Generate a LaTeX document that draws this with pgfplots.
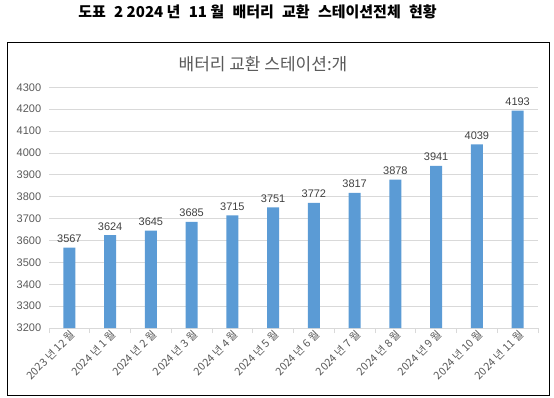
\documentclass[border=0pt]{standalone}
\usepackage{fontspec}
\setmainfont{Liberation Sans}
\newfontfamily\kr{Noto Sans CJK KR}
\usepackage{pgfplots}
\pgfplotsset{compat=1.18}
\definecolor{barblue}{HTML}{5B9BD5}
\definecolor{gridgray}{HTML}{D9D9D9}
\definecolor{txtgray}{HTML}{595959}
\definecolor{lblgray}{HTML}{404040}
\newcommand{\gap}{\hspace{0.55em}}
\begin{document}
\begin{tikzpicture}[x=1pt,y=1pt]
\useasboundingbox (0,0) rectangle (554,397);
\node[font=\kr\bfseries\fontsize{15}{17}\selectfont] at (257.5,385) {도표\gap 2 2024 년\gap 11 월\gap 배터리\gap 교환\gap 스테이션전체\gap 현황};
\draw[line width=1pt] (7,1.5) rectangle (549,354.5);
\node[font=\kr\fontsize{17}{19}\selectfont, text=txtgray] at (263,333) {배터리 교환 스테이션:개};
\begin{axis}[
  at={(49pt,69pt)}, anchor=south west,
  scale only axis, width=489pt, height=240.7pt,
  ymin=3200, ymax=4300, ytick={3200,3300,...,4300},
  xmin=-0.5, xmax=11.5,
  ybar, bar width=12pt,
  axis x line*=bottom, axis y line*=left,
  y axis line style={draw=none},
  x axis line style={-, draw=gridgray, line width=0.8pt},
  ymajorgrids, grid style={gridgray, line width=0.8pt},
  ytick style={draw=none},
  xtick={0,...,11},
  xticklabels={2023 년 12 월, 2024 년 1 월, 2024 년 2 월, 2024 년 3 월, 2024 년 4 월, 2024 년 5 월, 2024 년 6 월, 2024 년 7 월, 2024 년 8 월, 2024 년 9 월, 2024 년 10 월, 2024 년 11 월},
  major x tick style={draw=none},
  minor xtick={-0.5,0.5,...,11.5},
  minor tick length=5pt,
  minor x tick style={draw=gridgray, line width=0.8pt},
  tick align=outside,
  /pgf/number format/1000 sep={},
  /pgf/number format/assume math mode=true,
  yticklabel style={font=\fontsize{11}{13}\selectfont, text=txtgray},
  xticklabel style={rotate=45, anchor=east, inner sep=1.5pt, xshift=4pt, yshift=-3pt, font=\kr\fontsize{10.8}{12}\selectfont, text=txtgray},
  nodes near coords,
  every node near coord/.append style={font=\fontsize{11}{13}\selectfont, text=lblgray, yshift=1.5pt},
]
\addplot[fill=barblue, draw=none] coordinates {
(0,3567) (1,3624) (2,3645) (3,3685) (4,3715) (5,3751) (6,3772) (7,3817) (8,3878) (9,3941) (10,4039) (11,4193)};
\end{axis}
\end{tikzpicture}
\end{document}
